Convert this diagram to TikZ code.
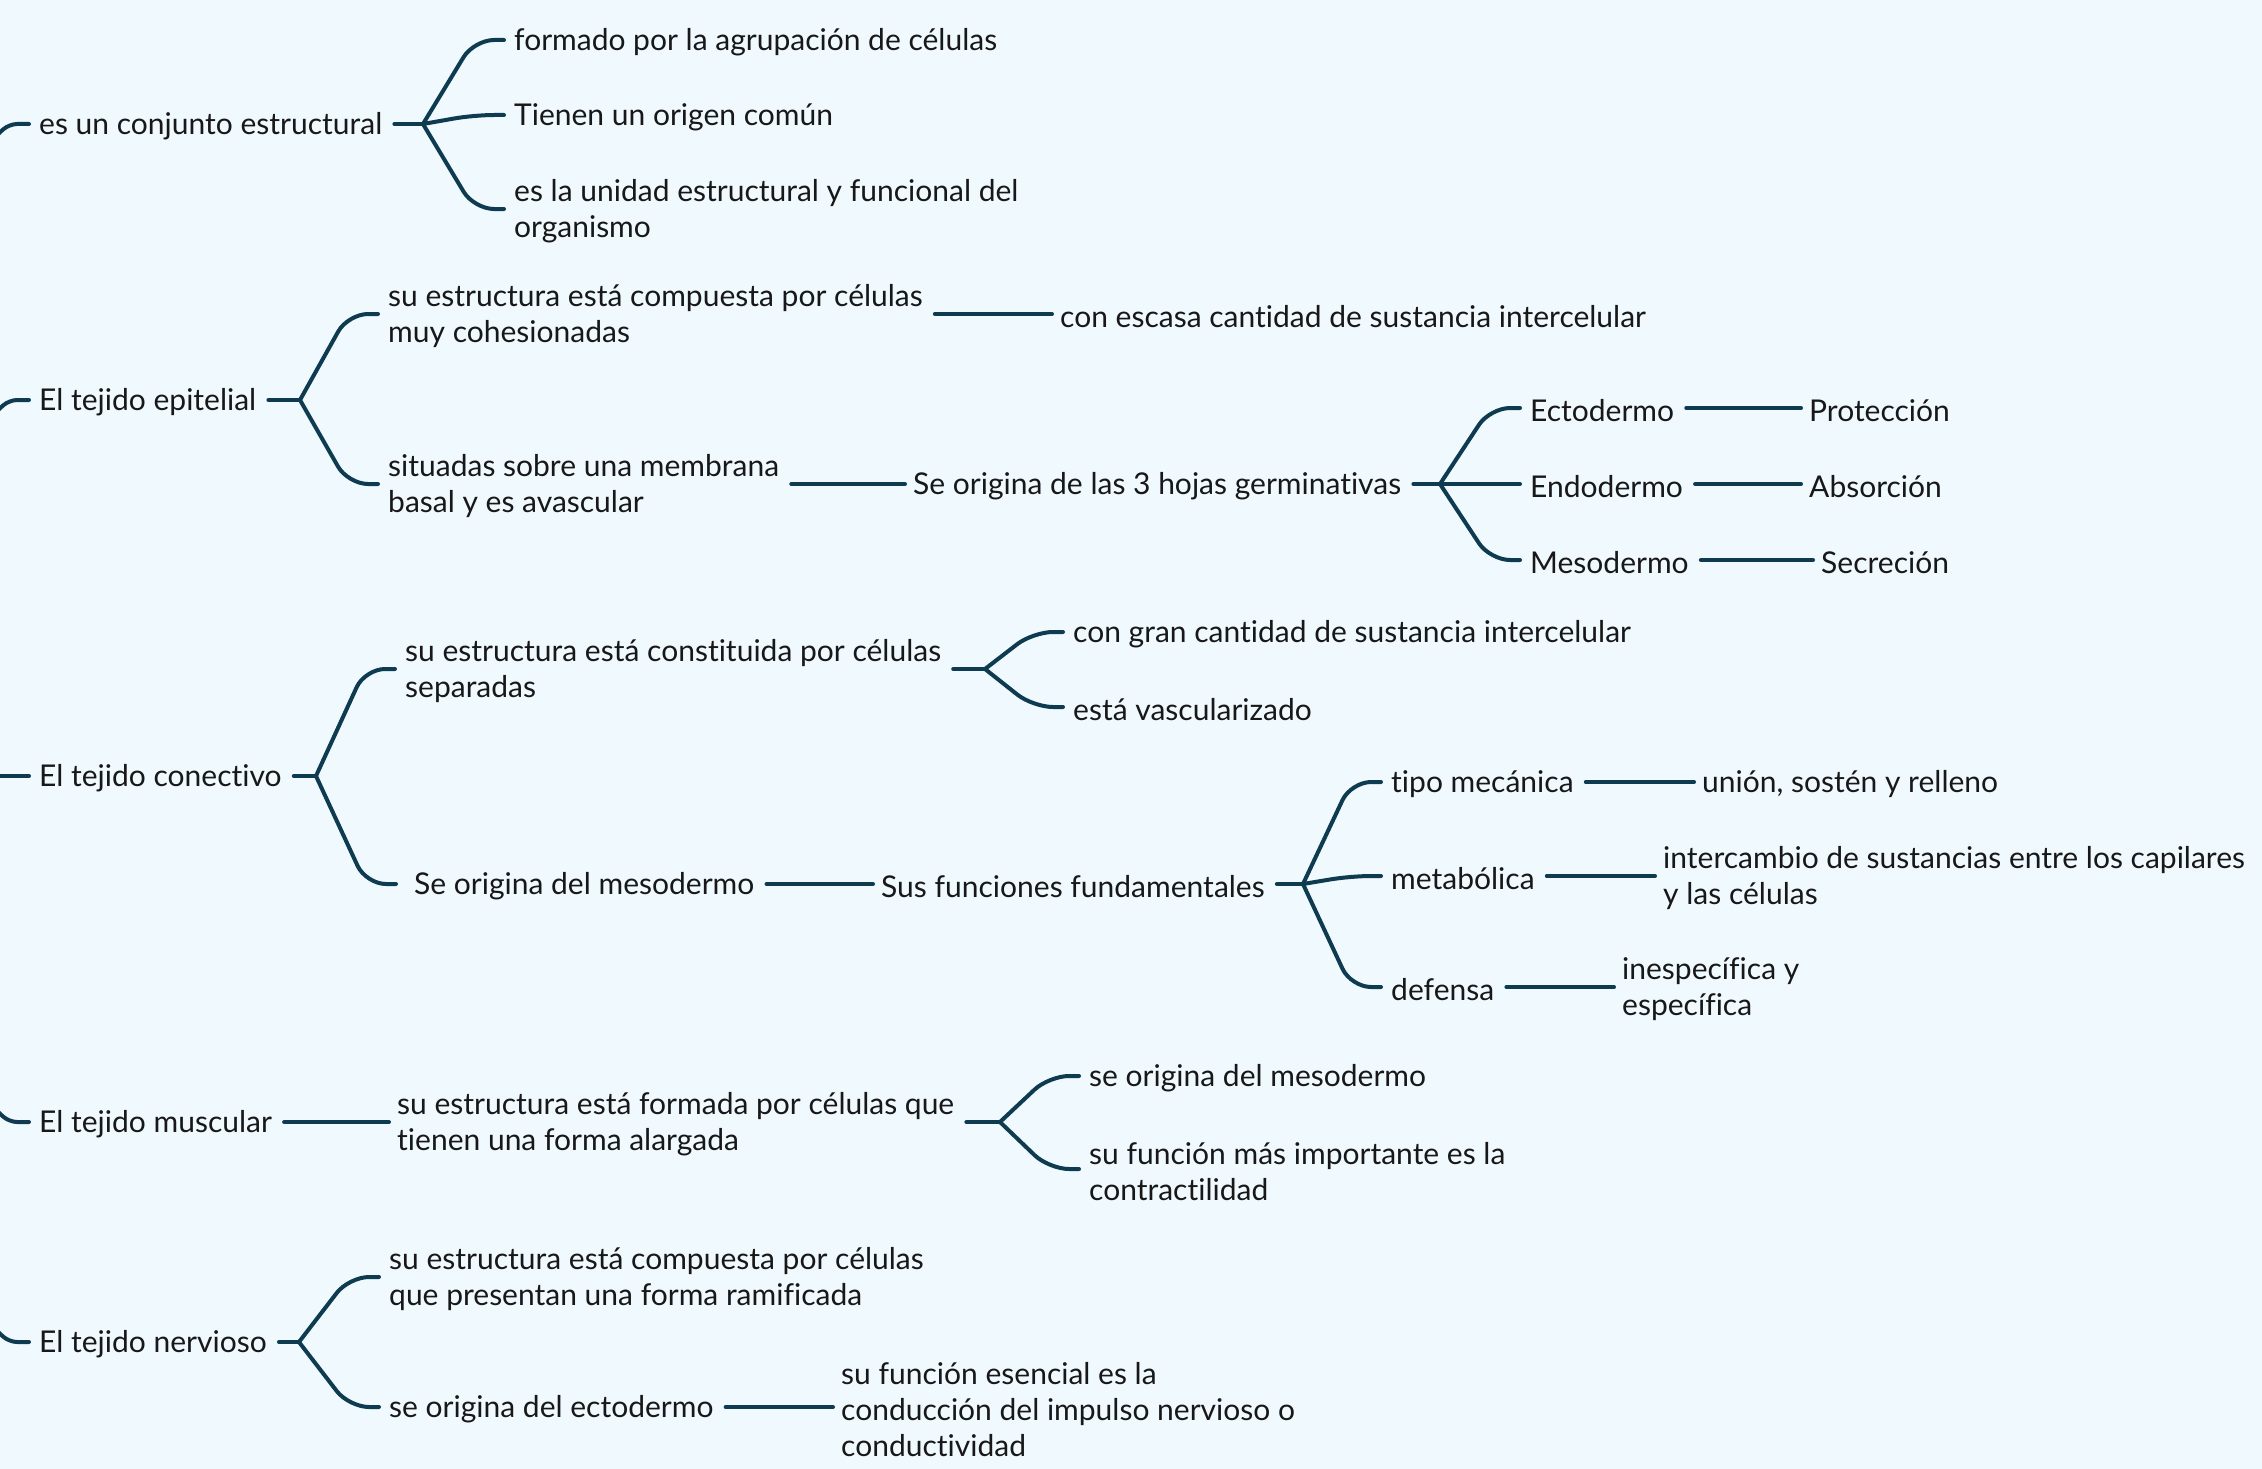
\documentclass[tikz,border=0pt]{standalone}
\usepackage{fontspec}
\setmainfont{Lato}[Ligatures=NoCommon]
\definecolor{bg}{RGB}{239,249,254}
\definecolor{ln}{RGB}{14,59,80}
\definecolor{tx}{RGB}{24,24,24}
\begin{document}
\begin{tikzpicture}[x=1pt,y=-1pt,
  txt/.style={anchor=west,inner sep=0pt,align=left,text=tx,yshift=-2.5pt,font=\fontsize{30}{36}\selectfont},
  conn/.style={draw=ln,line width=4pt,line cap=round},
  br/.style={conn,rounded corners=20pt}]
\fill[bg] (0,0) rectangle (2262,1469);
\useasboundingbox (0,0) rectangle (2262,1469);
% level 1
\node[txt] (A) at (39,124) {es un conjunto estructural};
\node[txt] (B) at (39,400) {El tejido epitelial};
\node[txt] (C) at (39,776) {El tejido conectivo};
\node[txt] (D) at (39,1122) {El tejido muscular};
\node[txt] (E) at (39,1342) {El tejido nervioso};
% A children
\node[txt] (A1) at (514,40) {formado por la agrupación de células};
\node[txt] (A2) at (514,115) {Tienen un origen común};
\node[txt] (A3) at (514,209) {es la unidad estructural y funcional del\\organismo};
% B children
\node[txt] (B1) at (388,314) {su estructura está compuesta por células\\muy cohesionadas};
\node[txt] (B1x) at (1060,314) {con escasa cantidad de sustancia intercelular};
\node[txt] (B2) at (388,484) {situadas sobre una membrana\\basal y es avascular};
\node[txt] (B2x) at (913,484) {Se origina de las 3 hojas germinativas};
\node[txt] (ecto) at (1530,408) {Ectodermo};
\node[txt] (endo) at (1530,484) {Endodermo};
\node[txt] (meso) at (1530,560) {Mesodermo};
\node[txt] (prot) at (1809,408) {Protección};
\node[txt] (abso) at (1809,484) {Absorción};
\node[txt] (secr) at (1821,560) {Secreción};
% C children
\node[txt] (C1) at (405,669) {su estructura está constituida por células\\separadas};
\node[txt] (C1a) at (1073,632) {con gran cantidad de sustancia intercelular};
\node[txt] (C1b) at (1073,707) {está vascularizado};
\node[txt] (C2) at (414,884) {Se origina del mesodermo};
\node[txt] (C2x) at (881,884) {Sus funciones fundamentales};
\node[txt] (C2a) at (1391,782) {tipo mecánica};
\node[txt] (C2b) at (1391,876) {metabólica};
\node[txt] (C2c) at (1391,987) {defensa};
\node[txt] (C2ax) at (1702,782) {unión, sostén y relleno};
\node[txt] (C2bx) at (1663,876) {intercambio de sustancias entre los capilares\\y las células};
\node[txt] (C2cx) at (1622,987) {inespecífica y\\específica};
% D children
\node[txt] (D1) at (397,1122) {su estructura está formada por células que\\tienen una forma alargada};
\node[txt] (D1a) at (1089,1076) {se origina del mesodermo};
\node[txt] (D1b) at (1089,1169) {su función más importante es la\\contractilidad};
% E children
\node[txt] (E1) at (389,1277) {su estructura está compuesta por células\\que presentan una forma ramificada};
\node[txt] (E2) at (389,1407) {se origina del ectodermo};
\node[txt] (E2x) at (841,1407) {su función esencial es la\\conducción del impulso nervioso o\\conductividad};
% branch points
\coordinate (bA) at (423,124);
\coordinate (bB) at (300,400);
\coordinate (bB2) at (1440,484);
\coordinate (bC) at (316,776);
\coordinate (bC1) at (985,669);
\coordinate (bC2) at (1303,884);
\coordinate (bD) at (1000,1122);
\coordinate (bE) at (299,1342);
% left free ends
\coordinate (lA) at (-4,136);
\coordinate (lB) at (-4,412);
\coordinate (lC) at (-4,776);
\coordinate (lD) at (-4,1110);
\coordinate (lE) at (-4,1330);
\foreach \n in {A,B,C,D,E}{
  \draw[br,rounded corners=8pt] (l\n) -- ([xshift=-30,yshift=2.5]\n.west) -- ([xshift=-10,yshift=2.5]\n.west);
}
% stubs to branch points
\foreach \a/\b in {A/bA,B/bB,B2x/bB2,C/bC,C1/bC1,C2x/bC2,D1/bD,E/bE}{
  \draw[conn] ([xshift=12,yshift=2.5]\a.east) -- (\b);
}
% branches
\foreach \p/\c in {bA/A1,bA/A2,bA/A3,bB/B1,bB/B2,bB2/ecto,bB2/endo,bB2/meso,bC/C1,bC1/C1a,bC1/C1b,bC2/C2a,bC2/C2b,bC2/C2c,bD/D1a,bD/D1b,bE/E1,bE/E2}{
  \draw[br] (\p) -- ([xshift=-40,yshift=2.5]\c.west) -- ([xshift=-10,yshift=2.5]\c.west);
}
\draw[br] (bC) -- ([xshift=-48,yshift=2.5]C2.west) -- ([xshift=-18,yshift=2.5]C2.west);
% straight connectors
\foreach \a/\b in {B1/B1x,B2/B2x,ecto/prot,endo/abso,meso/secr,C2/C2x,C2a/C2ax,C2b/C2bx,C2c/C2cx,D/D1,E2/E2x}{
  \draw[conn] ([xshift=12,yshift=2.5]\a.east) -- ([xshift=-8,yshift=2.5]\b.west);
}
\end{tikzpicture}
\end{document}
